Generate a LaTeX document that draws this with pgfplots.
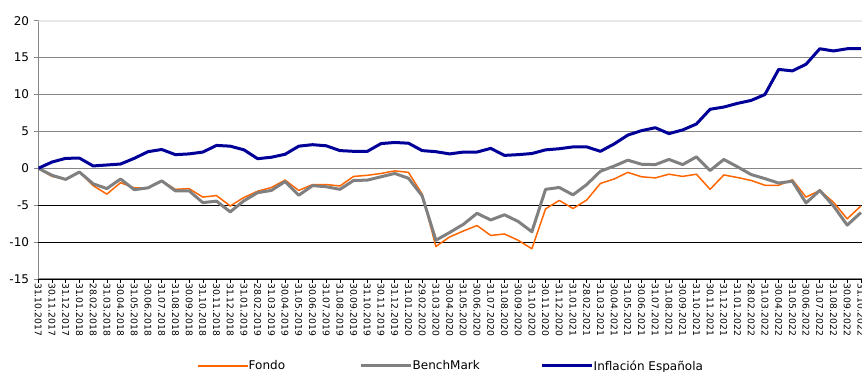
\documentclass[border=0pt]{standalone}
\usepackage{pgfplots}
\usepackage{pgfplotstable}
\pgfplotsset{compat=1.18}
\usepackage{fontspec}
\setmainfont{DejaVu Sans}
\definecolor{fondo}{RGB}{255,102,0}
\definecolor{bench}{RGB}{128,128,128}
\definecolor{infl}{RGB}{0,0,153}
\definecolor{gridgray}{RGB}{134,134,134}
\definecolor{toplight}{RGB}{232,232,232}
\pgfplotstableread{
i f b n
0 0 0 0
1 -1.1 -0.95 0.85
2 -1.5 -1.5 1.35
3 -0.5 -0.5 1.38
4 -2.35 -2.1 0.32
5 -3.5 -2.75 0.45
6 -1.95 -1.45 0.58
7 -2.65 -2.9 1.35
8 -2.65 -2.65 2.25
9 -1.7 -1.7 2.55
10 -2.85 -3.05 1.85
11 -2.75 -3.05 1.95
12 -3.9 -4.65 2.2
13 -3.7 -4.45 3.1
14 -5.1 -5.9 3.0
15 -3.95 -4.4 2.5
16 -3.1 -3.3 1.3
17 -2.6 -3.0 1.5
18 -1.6 -1.8 1.9
19 -3.0 -3.65 3.0
20 -2.2 -2.35 3.2
21 -2.2 -2.5 3.05
22 -2.4 -2.85 2.4
23 -1.1 -1.65 2.3
24 -0.95 -1.6 2.3
25 -0.7 -1.15 3.35
26 -0.35 -0.7 3.5
27 -0.55 -1.35 3.4
28 -3.5 -3.75 2.4
29 -10.6 -9.75 2.25
30 -9.3 -8.7 1.95
31 -8.5 -7.6 2.2
32 -7.75 -6.1 2.2
33 -9.1 -7.0 2.7
34 -8.9 -6.3 1.75
35 -9.75 -7.2 1.85
36 -10.9 -8.6 2.0
37 -5.5 -2.85 2.5
38 -4.35 -2.6 2.65
39 -5.45 -3.6 2.9
40 -4.3 -2.2 2.9
41 -2.05 -0.4 2.3
42 -1.45 0.3 3.3
43 -0.55 1.1 4.5
44 -1.15 0.55 5.1
45 -1.3 0.5 5.5
46 -0.8 1.2 4.7
47 -1.1 0.5 5.2
48 -0.8 1.55 6.0
49 -2.85 -0.3 8.0
50 -0.9 1.2 8.3
51 -1.25 0.2 8.8
52 -1.65 -0.85 9.2
53 -2.3 -1.4 10.0
54 -2.3 -2.0 13.4
55 -1.55 -1.75 13.2
56 -3.9 -4.7 14.1
57 -3.0 -3.0 16.2
58 -4.6 -5.1 15.9
59 -6.85 -7.7 16.2
60 -5.1 -6.0 16.2
}\datatable
\begin{document}
\begin{tikzpicture}
\begin{axis}[
  scale only axis, width=823.7pt, height=258.3pt,
  xmin=0, xmax=60.08, ymin=-15, ymax=20,
  axis x line*=bottom, axis y line*=left,
  x axis line style={black, line width=0.8pt},
  y axis line style={gridgray, line width=1.3pt},
  tick align=outside, major tick length=4pt,
  xtick={0,...,60},
  xticklabels={31.10.2017,30.11.2017,31.12.2017,31.01.2018,28.02.2018,31.03.2018,30.04.2018,31.05.2018,30.06.2018,31.07.2018,31.08.2018,30.09.2018,31.10.2018,30.11.2018,31.12.2018,31.01.2019,28.02.2019,31.03.2019,30.04.2019,31.05.2019,30.06.2019,31.07.2019,31.08.2019,30.09.2019,31.10.2019,30.11.2019,31.12.2019,31.01.2020,29.02.2020,31.03.2020,30.04.2020,31.05.2020,30.06.2020,31.07.2020,31.08.2020,30.09.2020,31.10.2020,30.11.2020,31.12.2020,31.01.2021,28.02.2021,31.03.2021,30.04.2021,31.05.2021,30.06.2021,31.07.2021,31.08.2021,30.09.2021,31.10.2021,30.11.2021,31.12.2021,31.01.2022,28.02.2022,31.03.2022,30.04.2022,31.05.2022,30.06.2022,31.07.2022,31.08.2022,30.09.2022,31.10.2022},
  xticklabel style={rotate=-90, anchor=west, inner sep=0pt, font=\fontsize{9.2}{10}\selectfont},
  xtick style={black, line width=0.6pt},
  ytick={-15,0,5,10,15},
  yticklabels={-15,0,5,10,15},
  extra y ticks={-10,-5,20},
  extra y tick labels={-10,-5,20},
  extra y tick style={grid style={black, line width=0.8pt}},
  yticklabel style={font=\fontsize{12}{14}\selectfont, inner sep=0pt, xshift=-5pt},
  ytick style={gridgray, line width=0.8pt},
  ymajorgrids,
  grid style={gridgray, line width=1.3pt},
  legend style={draw=none, fill=none, inner sep=0pt, at={(0.1927,-0.3368)}, anchor=west,
    legend columns=-1, font=\fontsize{12}{14}\selectfont, nodes={inner sep=0pt}, column sep=0pt},
  legend image code/.code={\draw[#1] (0pt,0pt) -- (43pt,0pt); \path (0pt,0pt) -- (50pt,0pt);},
  every axis plot/.append style={line join=round, no markers},
]
\draw[toplight, line width=1.6pt] (axis cs:0,20) -- (axis cs:60.08,20);
\addplot[fondo, line width=1.5pt] table[x=i,y=f]{\datatable};
\addlegendentry{\makebox[111pt][l]{Fondo}}
\addplot[bench, line width=3pt] table[x=i,y=b]{\datatable};
\addlegendentry{\makebox[128pt][l]{BenchMark}}
\addplot[infl, line width=3pt] table[x=i,y=n]{\datatable};
\addlegendentry{Inflación Española}
\end{axis}
\pgfresetboundingbox
\useasboundingbox (-38.3pt,-93pt) rectangle (823.7pt,279pt);
\end{tikzpicture}
\end{document}
